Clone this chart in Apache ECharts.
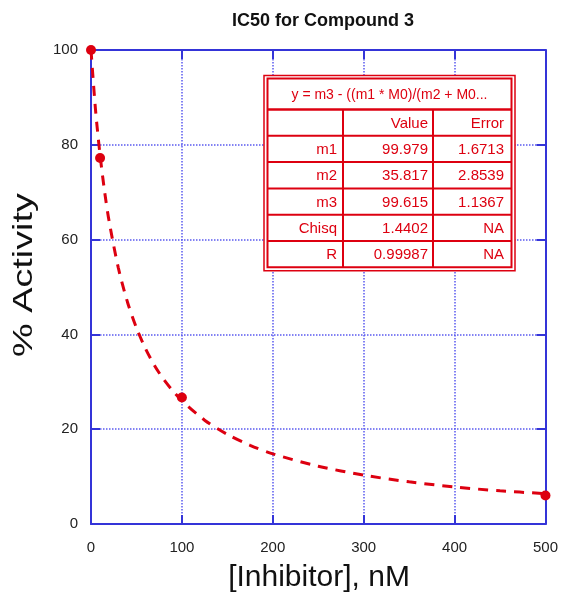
<!DOCTYPE html>
<html>
<head>
<meta charset="utf-8">
<script src="https://cdn.jsdelivr.net/npm/echarts@6/dist/echarts.min.js"></script>
<style>
  html, body { margin: 0; padding: 0; background: #fff; }
  #chart { width: 561px; height: 600px; }
</style>
</head>
<body>
<div id="chart"></div>
<script>
// measured points
var pointX = [0, 10, 100, 500]
var pointY = [100, 77.2, 26.7, 6]

// fitted curve
var curveX = [0, 5, 10, 15, 20, 30, 40, 50, 60, 70, 80, 90, 100, 125, 150, 175, 200, 250, 300, 350, 400, 450, 500]
var curveY = [100, 87.3, 77.8, 70.1, 63.8, 54.1, 46.9, 41.4, 37.0, 33.4, 30.5, 28.1, 26.0, 21.9, 18.9, 16.6, 14.8, 12.2, 10.3, 8.9, 7.8, 7.0, 6.4]

// fit result table
var tableTitle = 'y = m3 - ((m1 * M0)/(m2 + M0...'
var tableHead = ['', 'Value', 'Error']
var paramNames = ['m1', 'm2', 'm3', 'Chisq', 'R']
var paramValues = ['99.979', '35.817', '99.615', '1.4402', '0.99987']
var paramErrors = ['1.6713', '2.8539', '1.1367', 'NA', 'NA']

var FONT = '"Liberation Sans", Arial, sans-serif'
var BLUE = '#3434d8'
var RED = '#dd0010'

function zip(xs, ys) {
  return xs.map(function(x, i) { return [x, ys[i]] })
}

function buildTable() {
  var x0 = 267.5
  var y0 = 78.5
  var colX = [267.5, 343, 433, 511.5]
  var headH = 31
  var rowH = 26.3
  var rows = [tableHead]
  paramNames.forEach(function(n, i) {
    rows.push([n, paramValues[i], paramErrors[i]])
  })
  var yEnd = y0 + headH + rowH * rows.length
  var els = []
  // white background + double border
  els.push({
    type: 'rect',
    shape: { x: 264, y: 75.5, width: 251, height: yEnd - 75.5 + 3.5 },
    style: { fill: '#fff', stroke: RED, lineWidth: 1.5 }
  })
  els.push({
    type: 'rect',
    shape: { x: x0, y: y0, width: colX[3] - x0, height: yEnd - y0 },
    style: { fill: '#fff', stroke: RED, lineWidth: 2 }
  })
  els.push({
    type: 'text',
    style: {
      text: tableTitle, x: (colX[0] + colX[3]) / 2, y: y0 + headH / 2 + 1,
      textAlign: 'center', textVerticalAlign: 'middle',
      fill: RED, font: '14px ' + FONT
    }
  })
  // horizontal separators
  for (var r = 0; r < rows.length; r++) {
    var yy = y0 + headH + rowH * r
    els.push({
      type: 'line',
      shape: { x1: x0, y1: yy, x2: colX[3], y2: yy },
      style: { stroke: RED, lineWidth: r === 0 ? 2.5 : 2 }
    })
  }
  // vertical separators
  ;[1, 2].forEach(function(c) {
    els.push({
      type: 'line',
      shape: { x1: colX[c], y1: y0 + headH, x2: colX[c], y2: yEnd },
      style: { stroke: RED, lineWidth: 2 }
    })
  })
  var rightX = [337, 428, 504]
  rows.forEach(function(row, r) {
    var cy = y0 + headH + rowH * r + rowH / 2 + 1
    row.forEach(function(t, c) {
      if (!t) return
      els.push({
        type: 'text',
        style: {
          text: t, x: rightX[c], y: cy,
          textAlign: 'right', textVerticalAlign: 'middle',
          fill: RED, font: '15px ' + FONT
        }
      })
    })
  })
  els.forEach(function(el) { el.z = 100 })
  return els
}

var chart = echarts.init(document.getElementById('chart'))

var axisCommon = {
  type: 'value',
  axisLine: { show: true, onZero: false, lineStyle: { color: BLUE, width: 2 } },
  axisTick: { show: true, inside: true, length: 9, lineStyle: { color: BLUE, width: 2 } },
  splitLine: { show: false }
}

var option = {
  animation: false,
  backgroundColor: '#fff',
  title: {
    text: 'IC50 for Compound 3',
    left: 227,
    top: 7,
    textStyle: { fontSize: 18, fontWeight: 'bold', color: '#111', fontFamily: FONT }
  },
  grid: { left: 91, top: 50, right: 15, bottom: 76 },
  xAxis: [
    Object.assign({}, axisCommon, {
      position: 'bottom', min: 0, max: 500, interval: 100,
      axisLabel: { color: '#222', fontSize: 15, margin: 16, fontFamily: FONT },
      splitLine: { show: true, lineStyle: { color: '#5a5af0', type: 'dotted', width: 1.5 } }
    }),
    Object.assign({}, axisCommon, {
      position: 'top', min: 0, max: 500, interval: 100,
      axisLabel: { show: false }
    })
  ],
  yAxis: [
    Object.assign({}, axisCommon, {
      position: 'left', min: 0, max: 100, interval: 20,
      axisLabel: { color: '#222', fontSize: 15, margin: 13, fontFamily: FONT },
      splitLine: { show: true, lineStyle: { color: '#5a5af0', type: 'dotted', width: 1.5 } }
    }),
    Object.assign({}, axisCommon, {
      position: 'right', min: 0, max: 100, interval: 20,
      axisLabel: { show: false }
    })
  ],
  series: [
    {
      name: 'fit',
      type: 'line',
      data: zip(curveX, curveY),
      smooth: 0.3,
      showSymbol: false,
      lineStyle: { color: RED, width: 3, type: [10, 8] },
      z: 3
    },
    {
      name: 'data',
      type: 'scatter',
      data: zip(pointX, pointY),
      symbolSize: 10,
      itemStyle: { color: RED, opacity: 1 },
      clip: false,
      z: 4
    }
  ],
  graphic: buildTable().concat([
    {
      type: 'text',
      x: 24, y: 275,
      rotation: Math.PI / 2,
      scaleX: 1.35,
      style: {
        text: '% Activity', x: 0, y: 0,
        textAlign: 'center', textVerticalAlign: 'middle',
        fill: '#111', font: '28px ' + FONT
      }
    },
    {
      type: 'text',
      x: 319, y: 578,
      style: {
        text: '[Inhibitor], nM', x: 0, y: 0,
        textAlign: 'center', textVerticalAlign: 'middle',
        fill: '#111', font: '30px ' + FONT
      }
    }
  ])
}

chart.setOption(option)
</script>
</body>
</html>
